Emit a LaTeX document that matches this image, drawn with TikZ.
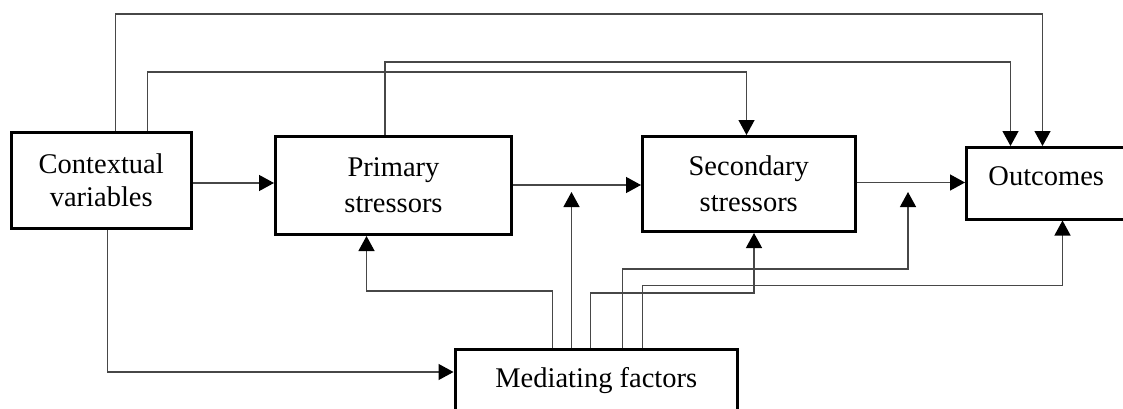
\documentclass[tikz,border=0pt]{standalone}
\usepackage{fontspec}
\setmainfont{Liberation Serif}
\usetikzlibrary{arrows.meta,calc}
\begin{document}
\begin{tikzpicture}[x=1pt,y=-1pt,
  box/.style={draw=black,line width=3pt,rectangle,inner sep=0pt,align=center,
    font=\fontsize{28.5}{33}\selectfont},
  conn/.style={draw=black!72,line width=1.3pt,
    -{Triangle[length=15pt,width=16pt,color=black]}}]
\useasboundingbox (0,0) rectangle (1123,408);
\clip (0,0) rectangle (1123,408);
\fill[white] (0,0) rectangle (1123,408);

\node[box,minimum width=179.5pt,minimum height=96.5pt] (ctx) at (101.25,180.25) {Contextual\\variables};
\node[box,minimum width=236pt,minimum height=98pt] (pri) at (393.5,185.5) {Primary\\[3pt]stressors};
\node[box,minimum width=212.5pt,minimum height=95pt] (sec) at (748.75,184) {Secondary\\[3pt]stressors};
\node[box,minimum width=159.5pt,minimum height=71.5pt,text depth=15pt] (out) at (1046.25,183.25) {Outcomes};
\node[box,minimum width=282.5pt,minimum height=62.5pt] (med) at (596.25,380.75) {Mediating factors};

% horizontal chain
\coordinate (h1) at ([yshift=-2.75pt]ctx.east);
\draw[conn] (h1) -- (h1 -| pri.west);
\coordinate (h2) at ([yshift=0.5pt]pri.east);
\draw[conn] (h2) -- (h2 -| sec.west);
\coordinate (h3) at ([yshift=1.5pt]sec.east);
\draw[conn] (h3) -- (h3 -| out.west);

% top connectors
\coordinate (y14) at (0,14);
\coordinate (y62) at (0,62);
\coordinate (y72) at (0,72);
\coordinate (t1s) at ([xshift=105.5pt]ctx.north west);
\coordinate (t1e) at ([xshift=77.5pt]out.north west);
\draw[conn] (t1s) -- (t1s |- y14) -| (t1e);
\coordinate (t2s) at ([xshift=137.5pt]ctx.north west);
\coordinate (t2e) at ([xshift=105.5pt]sec.north west);
\draw[conn] (t2s) -- (t2s |- y72) -| (t2e);
\coordinate (t3s) at ([xshift=111pt]pri.north west);
\coordinate (t3e) at ([xshift=45.5pt]out.north west);
\draw[conn] (t3s) -- (t3s |- y62) -| (t3e);

% contextual -> mediating
\coordinate (y372) at (0,372);
\coordinate (b1s) at ([xshift=97.5pt]ctx.south west);
\draw[conn] (b1s) -- (b1s |- y372) -- (y372 -| med.west);

% mediating connectors
\coordinate (y291) at (0,291);
\coordinate (y293) at (0,293);
\coordinate (y269) at (0,269);
\coordinate (y285) at (0,285.5);
\coordinate (b2s) at ([xshift=99pt]med.north west);
\coordinate (b2e) at ([xshift=92.5pt]pri.south west);
\draw[conn] (b2s) -- (b2s |- y291) -| (b2e);
\coordinate (b3s) at ([xshift=118pt]med.north west);
\coordinate (m1) at (573,192);
\draw[conn] (b3s) -- (b3s |- m1);
\coordinate (b4s) at ([xshift=137pt]med.north west);
\coordinate (b4e) at ([xshift=113pt]sec.south west);
\draw[conn] (b4s) -- (b4s |- y293) -| (b4e);
\coordinate (b5s) at ([xshift=169pt]med.north west);
\coordinate (m2) at (908,192);
\draw[conn] (b5s) -- (b5s |- y269) -| (m2);
\coordinate (b6s) at ([xshift=189pt]med.north west);
\coordinate (b6e) at ([xshift=97.5pt]out.south west);
\draw[conn] (b6s) -- (b6s |- y285) -| (b6e);
\end{tikzpicture}
\end{document}
